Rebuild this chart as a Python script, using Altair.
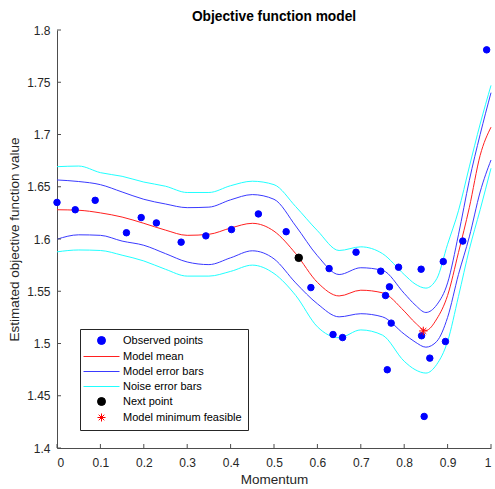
import altair as alt
import pandas as pd

# Gaussian-process model of the objective, sampled along Momentum
grid_x = [0, 0.05, 0.1, 0.15, 0.2, 0.25, 0.3, 0.35, 0.4, 0.45, 0.5, 0.55, 0.6,
          0.65, 0.7, 0.75, 0.8, 0.825, 0.85, 0.875, 0.9, 0.925, 0.95, 0.975, 1.0]
mean_y = [1.628, 1.6275, 1.625, 1.621, 1.615, 1.6085, 1.6035, 1.6045, 1.6105, 1.615,
          1.6075, 1.586, 1.5585, 1.5455, 1.551, 1.5485, 1.531, 1.520, 1.5125, 1.5235,
          1.546, 1.587, 1.630, 1.680, 1.707]
model_hi = [1.6565, 1.655, 1.652, 1.645, 1.638, 1.6335, 1.630, 1.6305, 1.6375, 1.6425,
            1.638, 1.6125, 1.584, 1.566, 1.5725, 1.570, 1.548, 1.537, 1.5297, 1.537,
            1.558, 1.604, 1.656, 1.700, 1.740]
model_lo = [1.5998, 1.604, 1.6035, 1.598, 1.594, 1.586, 1.578, 1.5755, 1.582, 1.5887,
            1.581, 1.558, 1.538, 1.5255, 1.5285, 1.5255, 1.509, 1.5015, 1.4965, 1.502,
            1.525, 1.566, 1.602, 1.645, 1.6756]
noise_hi = [1.6692, 1.6698, 1.6635, 1.660, 1.6545, 1.6505, 1.6445, 1.6445, 1.651, 1.6553,
            1.652, 1.631, 1.608, 1.589, 1.5925, 1.586, 1.566, 1.557, 1.553, 1.562,
            1.595, 1.627, 1.669, 1.710, 1.747]
noise_lo = [1.5877, 1.5895, 1.589, 1.5845, 1.579, 1.571, 1.5645, 1.5645, 1.569, 1.575,
            1.567, 1.546, 1.516, 1.5055, 1.513, 1.508, 1.483, 1.475, 1.4717, 1.48,
            1.502, 1.545, 1.590, 1.628, 1.6677]

# Evaluated points
obs_x = [0.0, 0.042, 0.088, 0.160, 0.194, 0.229, 0.286, 0.343, 0.402, 0.464,
         0.528, 0.585, 0.627, 0.636, 0.658, 0.689, 0.746, 0.757, 0.761, 0.766,
         0.770, 0.787, 0.839, 0.840, 0.846, 0.859, 0.890, 0.895, 0.935, 0.990]
obs_y = [1.635, 1.628, 1.637, 1.606, 1.6205, 1.6154, 1.597, 1.603, 1.609, 1.624,
         1.607, 1.5535, 1.5717, 1.5086, 1.5057, 1.5874, 1.5692, 1.5459, 1.4749, 1.5542,
         1.5195, 1.573, 1.5711, 1.5074, 1.4302, 1.486, 1.5784, 1.5019, 1.598, 1.781]
next_x, next_y = [0.557], [1.582]
min_x, min_y = [0.844], [1.512]

x_ticks = [0, 0.1, 0.2, 0.3, 0.4, 0.5, 0.6, 0.7, 0.8, 0.9, 1.0]
y_ticks = [1.4, 1.45, 1.5, 1.55, 1.6, 1.65, 1.7, 1.75, 1.8]

series_names = ["Observed points", "Model mean", "Model error bars",
                "Noise error bars", "Next point", "Model minimum feasible"]
series_colors = ["#0000FF", "#FF2020", "#3a3aff", "#20FFFF", "#000000", "#FF0000"]
LINE = "M-4.5,0L4.5,0"
STAR = "M-1,0L1,0M0,-1L0,1M-0.7,-0.7L0.7,0.7M-0.7,0.7L0.7,-0.7"
series_shapes = ["circle", LINE, LINE, LINE, "circle", STAR]

W, H = 434, 418
FONT = "Liberation Sans"
AXIS_C = "#4d4d4d"
TEXT_C = "#262626"

# Long-format table for the curves
rows = []
for name, band, ys in [("Noise error bars", "hi", noise_hi), ("Noise error bars", "lo", noise_lo),
                       ("Model error bars", "hi", model_hi), ("Model error bars", "lo", model_lo),
                       ("Model mean", "mid", mean_y)]:
    for xv, yv in zip(grid_x, ys):
        rows.append({"x": xv, "y": yv, "series": name, "band": name + band})
curves = pd.DataFrame(rows)

pts = pd.DataFrame(
    [{"x": a, "y": b, "series": "Observed points"} for a, b in zip(obs_x, obs_y)]
    + [{"x": a, "y": b, "series": "Next point"} for a, b in zip(next_x, next_y)]
    + [{"x": a, "y": b, "series": "Model minimum feasible"} for a, b in zip(min_x, min_y)]
)

xscale = alt.Scale(domain=[0, 1], nice=False, zero=False)
yscale = alt.Scale(domain=[1.4, 1.8], nice=False, zero=False)
color_scale = alt.Scale(domain=series_names, range=series_colors)
shape_scale = alt.Scale(domain=series_names, range=series_shapes)

x_axis = alt.Axis(values=x_ticks, format="~g", title="Momentum", grid=False, tickSize=0,
                  domainColor=AXIS_C, labelColor=TEXT_C, labelFont=FONT, labelFontSize=12,
                  labelPadding=9, titleFont=FONT, titleFontSize=13.5, titleFontWeight="normal",
                  titleColor=TEXT_C, titlePadding=4)
y_axis = alt.Axis(values=y_ticks, format="~g", title="Estimated objective function value",
                  grid=False, tickSize=0, domainColor=AXIS_C, labelColor=TEXT_C, labelFont=FONT,
                  labelFontSize=12, labelPadding=7, titleFont=FONT, titleFontSize=13.5,
                  titleFontWeight="normal", titleColor=TEXT_C, titlePadding=5)

legend = alt.Legend(title=None, orient="none", legendX=23, legendY=299,
                    strokeColor="#262626", fillColor="white", padding=6, rowPadding=3,
                    labelFont=FONT, labelFontSize=11, labelColor="black", labelLimit=300,
                    symbolSize=64, symbolStrokeWidth=1, symbolOffset=10, labelOffset=16,
                    cornerRadius=0)

lines = alt.Chart(curves).mark_line(strokeWidth=1, interpolate="monotone").encode(
    x=alt.X("x:Q", scale=xscale, axis=x_axis),
    y=alt.Y("y:Q", scale=yscale, axis=y_axis),
    stroke=alt.Stroke("series:N", scale=color_scale, legend=legend),
    detail="band:N",
    order=alt.Order("x:Q"),
)

points = alt.Chart(pts).mark_point(filled=True, opacity=1, strokeWidth=1).encode(
    x=alt.X("x:Q", scale=xscale, axis=x_axis),
    y=alt.Y("y:Q", scale=yscale, axis=y_axis),
    fill=alt.Fill("series:N", scale=color_scale, legend=legend),
    stroke=alt.Stroke("series:N", scale=color_scale, legend=legend),
    shape=alt.Shape("series:N", scale=shape_scale, legend=legend),
    size=alt.Size("series:N", legend=None,
                  scale=alt.Scale(domain=["Observed points", "Next point", "Model minimum feasible"],
                                  range=[42, 72, 80])),
)

# Inward-pointing tick marks
xt = alt.Chart(pd.DataFrame({"x": x_ticks})).mark_rule(color=AXIS_C, strokeWidth=1).encode(
    x=alt.X("x:Q", scale=xscale, axis=x_axis), y=alt.value(H), y2=alt.value(H - 4))
yt = alt.Chart(pd.DataFrame({"y": y_ticks})).mark_rule(color=AXIS_C, strokeWidth=1).encode(
    y=alt.Y("y:Q", scale=yscale, axis=y_axis), x=alt.value(0), x2=alt.value(4))

chart = alt.layer(lines, xt, yt, points).properties(
    width=W, height=H,
    title=alt.TitleParams("Objective function model", font=FONT, fontSize=13.75,
                          fontWeight="bold", color="black", anchor="middle", offset=0),
    autosize=alt.AutoSizeParams(type="none"),
    padding={"left": 57, "top": 30, "right": 4, "bottom": 41},
).configure_view(stroke=None)

chart.save("out.html", embed_options={"renderer": "svg", "actions": False})
